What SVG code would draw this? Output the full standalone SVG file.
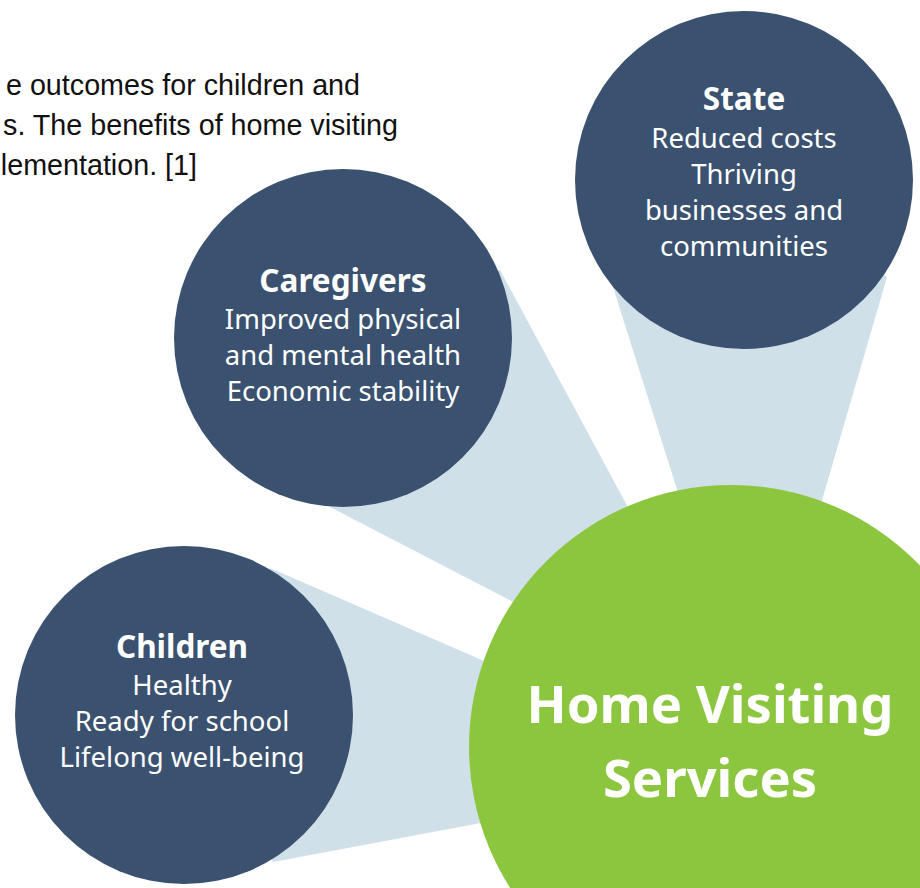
<svg xmlns="http://www.w3.org/2000/svg" width="920" height="888" viewBox="0 0 920 888">
<style>
.intro{font-family:"Liberation Sans",Arial,sans-serif;font-size:28.7px;fill:#111111}
.beam{fill:#cfe0e9}
.node{fill:#3b5170}
.hub{fill:#8cc63f}
.title{font-family:"Noto Sans","Open Sans",sans-serif;font-weight:700;font-size:31.5px;fill:#ffffff;text-anchor:middle}
.body{font-family:"Noto Sans","Open Sans",sans-serif;font-size:27.5px;fill:#ffffff;text-anchor:middle}
.hubtext{font-family:"Noto Sans","Open Sans",sans-serif;font-weight:700;font-size:52.5px;fill:#ffffff;text-anchor:middle}
</style>
<rect width="920" height="888" fill="#ffffff"/>
<g id="intro-text">
<text class="intro" x="360" y="95" text-anchor="end">e outcomes for children and</text>
<text class="intro" x="398" y="135" text-anchor="end">s. The benefits of home visiting</text>
<text class="intro" x="197" y="175" text-anchor="end">lementation. [1]</text>
</g>
<g id="connectors">
<polygon class="beam" points="744,180 613,287 712,600 793,600 887,277"/>
<polygon class="beam" points="343,338 500,270 678,600 600,647 330,507"/>
<polygon class="beam" points="184,715 270,568 560,694 560,808 273,862"/>
</g>
<g id="node-state">
<circle class="node" cx="744" cy="180" r="169"/>
<text class="title" x="744" y="110">State</text>
<text class="body" x="744" y="148">Reduced costs</text>
<text class="body" x="744" y="184">Thriving</text>
<text class="body" x="744" y="220">businesses and</text>
<text class="body" x="744" y="256">communities</text>
</g>
<g id="node-caregivers">
<circle class="node" cx="343" cy="338" r="169"/>
<text class="title" x="343" y="292">Caregivers</text>
<text class="body" x="343" y="329">Improved physical</text>
<text class="body" x="343" y="365">and mental health</text>
<text class="body" x="343" y="401">Economic stability</text>
</g>
<g id="node-children">
<circle class="node" cx="184" cy="715" r="169"/>
<text class="title" x="182" y="658">Children</text>
<text class="body" x="182" y="695">Healthy</text>
<text class="body" x="182" y="731">Ready for school</text>
<text class="body" x="182" y="767">Lifelong well-being</text>
</g>
<g id="node-home-visiting">
<circle class="hub" cx="731" cy="747" r="262"/>
<text class="hubtext" x="710" y="723">Home Visiting</text>
<text class="hubtext" x="710" y="797">Services</text>
</g>
</svg>
